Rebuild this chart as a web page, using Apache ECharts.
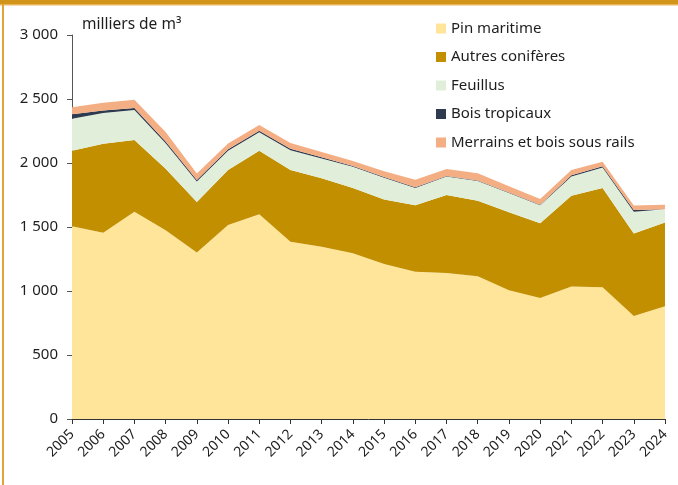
<!DOCTYPE html>
<html>
<head>
<meta charset="utf-8">
<script src="https://cdn.jsdelivr.net/npm/echarts@6/dist/echarts.min.js"></script>
<style>
  html, body { margin: 0; padding: 0; background: #fff; }
  #chart { width: 678px; height: 485px; }
</style>
</head>
<body>
<div id="chart"></div>
<script>
const years = ['2005', '2006', '2007', '2008', '2009', '2010', '2011', '2012', '2013', '2014',
  '2015', '2016', '2017', '2018', '2019', '2020', '2021', '2022', '2023', '2024']
const pinMaritime = [1505, 1455, 1620, 1475, 1300, 1515, 1600, 1385, 1345, 1295, 1210, 1150, 1140, 1115, 1005, 945, 1035, 1030, 805, 880]
const autresConiferes = [590, 695, 560, 480, 395, 430, 495, 560, 535, 510, 505, 520, 610, 590, 610, 585, 710, 775, 645, 655]
const feuillus = [250, 240, 235, 200, 160, 150, 145, 155, 155, 165, 170, 135, 145, 155, 150, 140, 150, 160, 170, 100]
const boisTropicaux = [35, 20, 15, 13, 12, 12, 12, 12, 10, 6, 5, 5, 4, 4, 4, 4, 10, 10, 12, 4]
const merrains = [55, 60, 65, 75, 50, 45, 45, 45, 40, 40, 45, 60, 55, 55, 50, 45, 40, 35, 35, 35]
const yTicks = [0, 500, 1000, 1500, 2000, 2500, 3000]

const fontFamily = '"Noto Sans", "DejaVu Sans", sans-serif'
const chartDom = document.getElementById('chart')
const myChart = echarts.init(chartDom)

const area = function (name, data, color) {
  return {
    name: name,
    type: 'line',
    stack: 'total',
    data: data,
    showSymbol: false,
    symbol: 'none',
    lineStyle: { width: 0 },
    areaStyle: { color: color, opacity: 1 },
    itemStyle: { color: color },
    emphasis: { disabled: true }
  }
}

const option = {
  animation: false,
  textStyle: { fontFamily: fontFamily, color: '#1e1e1e' },
  grid: { left: 72, right: 13, top: 35, bottom: 66 },
  legend: {
    orient: 'vertical',
    left: 431,
    top: 16,
    itemGap: 13.5,
    itemWidth: 10,
    itemHeight: 10,
    icon: 'rect',
    textStyle: { fontSize: 15, color: '#1e1e1e', fontFamily: fontFamily },
    data: ['Pin maritime', 'Autres conifères', 'Feuillus', 'Bois tropicaux', 'Merrains et bois sous rails']
  },
  xAxis: {
    type: 'category',
    data: years,
    boundaryGap: false,
    axisLine: { lineStyle: { color: '#333', width: 1 } },
    axisTick: { show: true, alignWithLabel: true, length: 5, lineStyle: { color: '#333' } },
    axisLabel: { rotate: 45, fontSize: 14, color: '#1e1e1e', margin: 13, interval: 0 }
  },
  yAxis: {
    type: 'value',
    min: yTicks[0],
    max: yTicks[yTicks.length - 1],
    interval: 500,
    axisLine: { show: true, lineStyle: { color: '#555' } },
    axisTick: { show: true, length: 5, lineStyle: { color: '#555' } },
    splitLine: { show: false },
    axisLabel: {
      fontSize: 15,
      color: '#1e1e1e',
      margin: 14,
      formatter: function (v) {
        return v >= 1000 ? Math.floor(v / 1000) + ' ' + String(v % 1000).padStart(3, '0') : String(v)
      }
    }
  },
  graphic: [
    { type: 'rect', shape: { x: 0, y: 0, width: 678, height: 4 }, style: { fill: '#D29519' } },
    { type: 'rect', shape: { x: 0, y: 4, width: 678, height: 1.5 }, style: { fill: '#E9B55A' } },
    { type: 'rect', shape: { x: 2, y: 4, width: 2, height: 481 }, style: { fill: '#E0A53A' } },
    {
      type: 'text',
      left: 82,
      top: 17,
      style: { text: 'milliers de m³', fontSize: 15.5, fill: '#1e1e1e', fontFamily: fontFamily }
    }
  ],
  series: [
    area('Pin maritime', pinMaritime, '#FEE59A'),
    area('Autres conifères', autresConiferes, '#C18F00'),
    area('Feuillus', feuillus, '#E1EFDA'),
    area('Bois tropicaux', boisTropicaux, '#2E3A4E'),
    area('Merrains et bois sous rails', merrains, '#F4AE84')
  ]
}

option && myChart.setOption(option)
window.addEventListener('resize', function () {
  myChart.resize()
})
</script>
</body>
</html>
